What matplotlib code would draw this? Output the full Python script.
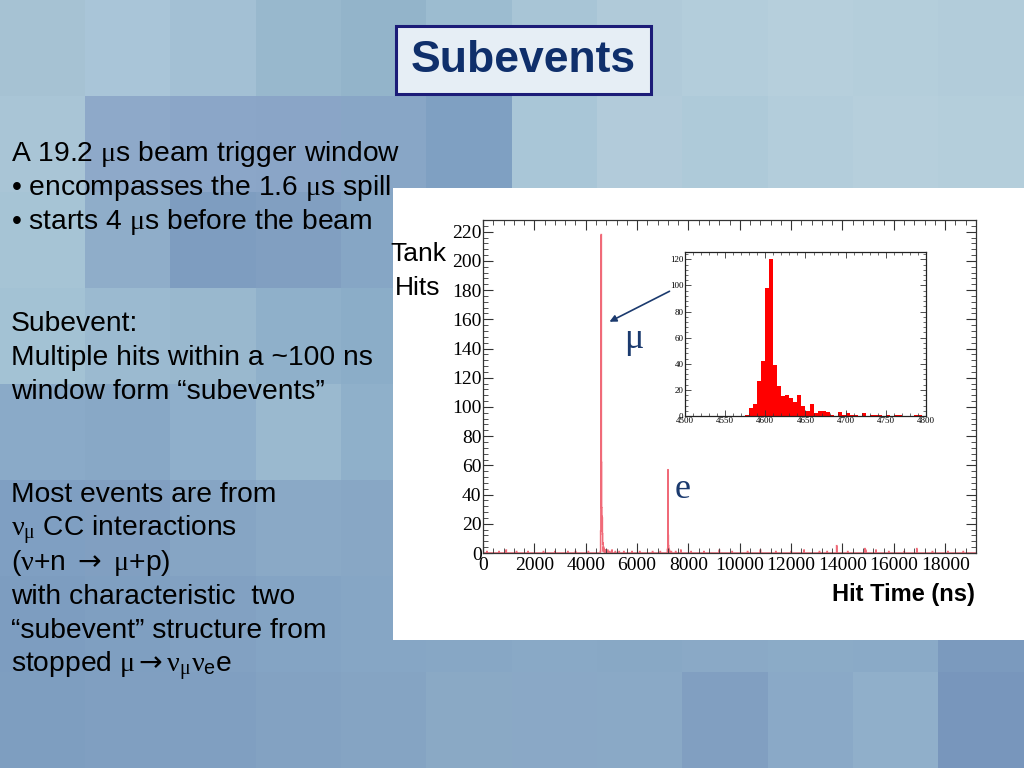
import numpy as np
import matplotlib
matplotlib.use("Agg")
import matplotlib.pyplot as plt
from matplotlib.patches import Rectangle
from matplotlib.ticker import MultipleLocator

plt.rcParams['font.family'] = ['Liberation Sans', 'DejaVu Sans']
plt.rcParams['mathtext.fontset'] = 'custom'
plt.rcParams['mathtext.rm'] = 'DejaVu Sans'
plt.rcParams['mathtext.sf'] = 'Liberation Sans'
plt.rcParams['mathtext.it'] = 'Liberation Serif'

# ---- data ----
# main histogram: 10 ns bins from 0 to 19200 ns, only non-empty bins listed
main_bin_width = 10
main_tmax = 19200
mu_bin_times = [4570, 4580, 4590, 4600, 4610, 4620, 4630, 4640, 4650, 4660,
                4670, 4680, 4690, 4700, 4710, 4720, 4730, 4740, 4760, 4790,
                4850, 4930, 5020, 5150, 5300, 5480]
mu_bin_counts = [1, 15, 69, 218, 62, 31, 25, 24, 13, 6,
                 7, 1, 4, 3, 1, 2, 2, 1, 2, 1,
                 2, 1, 2, 1, 1, 1]
e_bin_times = [7180, 7190, 7200, 7210, 7220, 7230, 7250, 7280, 7330]
e_bin_counts = [2, 3, 57, 12, 5, 3, 2, 1, 1]
noise_bin_times = [150, 620, 900, 1300, 1750, 2350, 2800, 3300, 3600, 4100,
                   5800, 6100, 6600, 6900, 7500, 7700, 8100, 8600, 9200, 9700,
                   10300, 10800, 11400, 12000, 12500, 13100, 13400, 13770, 14200, 14870,
                   14900, 15300, 15800, 16400, 16890, 17500, 18100, 18700]
noise_bin_counts = [1, 1, 2, 1, 1, 1, 1, 1, 1, 1,
                    1, 1, 1, 1, 1, 2, 1, 1, 2, 1,
                    1, 2, 1, 1, 2, 1, 1, 5, 1, 3,
                    2, 2, 1, 1, 3, 1, 1, 1]

# inset: 5 ns bins from 4500 to 4800 ns
inset_bin_width = 5
inset_tmin, inset_tmax = 4500, 4800
inset_counts = [0, 0, 0, 0, 0, 0, 0, 0, 0, 0,
                0, 0, 0, 0, 0, 1, 6, 9, 27, 42,
                98, 120, 39, 23, 15, 16, 14, 11, 16, 8,
                4, 9, 2, 4, 4, 3, 1, 0, 3, 1,
                2, 1, 1, 0, 2, 0, 1, 1, 1, 0,
                1, 0, 1, 1, 0, 0, 0, 1, 1, 0]

# slide text
title = "Subevents"
left_lines = [
    ("A 19.2 $\\mu$s beam trigger window", 161),
    ("\u2022 encompasses the 1.6 $\\mu$s spill", 195),
    ("\u2022 starts 4 $\\mu$s before the beam", 229),
    ("Subevent:", 331),
    ("Multiple hits within a ~100 ns", 365),
    ("window form \u201csubevents\u201d", 399),
    ("Most events are from", 502),
    ("$\\nu_\\mu$ CC interactions", 536),
    ("($\\nu$+n $\\mathrm{\\rightarrow}$ $\\mu$+p)", 570),
    ("with characteristic  two", 604),
    ("\u201csubevent\u201d structure from", 638),
    ("stopped $\\mu\\mathrm{\\rightarrow}\\nu_\\mu\\nu_\\mathsf{e}$e", 672),
]

# background tiles (decoration of the slide)
bg_tiles = [
    ["#a6c2d3", "#a9c5d8", "#a3c0d4", "#98b8cd", "#93b4ca", "#9cbcd0", "#a8c5d6", "#b0cad9", "#b3cddb", "#b6cfdc", "#b4cedb", "#b2ccda"],
    ["#a9c5d6", "#8ea9c9", "#8ba6c8", "#8aa5c7", "#88a6c6", "#7fa0c2", "#a9c6d7", "#b2cbda", "#aecad9", "#b3cddb", "#b6cfdc", "#b4cedb"],
    ["#a6c4d5", "#8fadc9", "#7e9dc0", "#819fc1", "#86a6c5", "#9bbbd0", "#a9c6d7", "#b2cbda", "#aecad9", "#b3cddb", "#b6cfdc", "#b4cedb"],
    ["#a3c2d4", "#9bbad0", "#99b8ce", "#8fb0ca", "#8badc8", "#9bbbd0", "#a9c6d7", "#b2cbda", "#aecad9", "#b3cddb", "#b6cfdc", "#b4cedb"],
    ["#8aaac8", "#88a8c6", "#8fafcb", "#9ab9cf", "#8fb0ca", "#9bbbd0", "#a9c6d7", "#b2cbda", "#aecad9", "#b3cddb", "#b6cfdc", "#b4cedb"],
    ["#7f9fc2", "#819fc1", "#86a5c4", "#8aa9c6", "#88a7c5", "#8fafca", "#9ab9cf", "#a0bdd2", "#a0bdd2", "#a4c0d4", "#a6c2d5", "#a0bdd2"],
    ["#7d9dc0", "#7f9fc1", "#82a1c2", "#84a4c4", "#86a6c5", "#87a7c5", "#89a9c6", "#88a8c5", "#8aa9c6", "#8babc7", "#8aaac7", "#7b9abe"],
    ["#7e9ec0", "#809fc1", "#809fc1", "#83a2c2", "#85a4c3", "#8aa9c5", "#8aa8c6", "#8aa9c6", "#819fc1", "#8aa9c7", "#90afca", "#7896bc"],
]

W, H = 1024, 768
fig = plt.figure(figsize=(W / 100, H / 100), dpi=100)

# background
bg_ax = fig.add_axes([0, 0, 1, 1])
bg_ax.set_zorder(-10)
rgb = np.array([[matplotlib.colors.to_rgb(c) for c in row] for row in bg_tiles])
bg_ax.imshow(rgb, aspect='auto', interpolation='nearest', extent=[0, 1, 0, 1])
bg_ax.set_axis_off()

def fx(px):
    return px / W

def fy(py):
    return 1 - py / H

# white panel behind the plot
fig.add_artist(Rectangle((fx(393), fy(640)), fx(1024 - 393), (640 - 188) / H,
                         transform=fig.transFigure, facecolor='white', edgecolor='none',
                         zorder=-5))

# title box
fig.add_artist(Rectangle((fx(396), fy(94)), fx(651 - 396), (94 - 26) / H,
                         transform=fig.transFigure, facecolor='#e6eef5',
                         edgecolor='#1c1c78', linewidth=2.2, zorder=-4))
fig.text(fx(523), fy(60), title, ha='center', va='center', fontsize=32,
         fontweight='bold', color='#0f2f6b')

# left text
for txt, base in left_lines:
    fig.text(fx(11), fy(base), txt, ha='left', va='baseline', fontsize=20.3, color='black')

fig.text(fx(418), fy(254), "Tank", ha='center', va='center', fontsize=19, color='black')
fig.text(fx(418), fy(288), "Hits", ha='center', va='center', fontsize=19, color='black')

# ---- main histogram ----
main_edges = np.arange(0, main_tmax + main_bin_width, main_bin_width)
main_counts = np.zeros(len(main_edges) - 1)
for times, counts in [(mu_bin_times, mu_bin_counts), (e_bin_times, e_bin_counts),
                      (noise_bin_times, noise_bin_counts)]:
    for t, c in zip(times, counts):
        main_counts[t // main_bin_width] += c

ax = fig.add_axes([fx(483), fy(553), fx(976 - 483), (553 - 220) / H])
ax.patch.set_alpha(0)
ax.stairs(main_counts, main_edges, color='#f06a78', linewidth=1.1)
ax.set_xlim(0, main_tmax)
ax.set_ylim(0, 228)
ax.xaxis.set_major_locator(MultipleLocator(2000))
ax.xaxis.set_minor_locator(MultipleLocator(400))
ax.yaxis.set_major_locator(MultipleLocator(20))
ax.yaxis.set_minor_locator(MultipleLocator(4))
ax.tick_params(which='both', direction='in', top=True, right=True, color='#333333')
ax.tick_params(which='major', length=7, width=0.8)
ax.tick_params(which='minor', length=3.5, width=0.6)
ax.tick_params(axis='x', pad=3)
ax.tick_params(axis='y', pad=1)
for lab in ax.get_xticklabels() + ax.get_yticklabels():
    lab.set_fontfamily('Liberation Serif')
    lab.set_fontsize(14)
for sp in ax.spines.values():
    sp.set_linewidth(0.9)
    sp.set_color('#333333')

fig.text(fx(975), fy(595), "Hit Time (ns)", ha='right', va='center', fontsize=17,
         fontweight='bold', color='black')

# ---- inset ----
inset_edges = np.arange(inset_tmin, inset_tmax + inset_bin_width, inset_bin_width)
axi = fig.add_axes([fx(685), fy(416), fx(926 - 685), (416 - 251.5) / H])
axi.stairs(inset_counts, inset_edges, fill=True, color='#ff0000', linewidth=0)
axi.set_xlim(inset_tmin, inset_tmax)
axi.set_ylim(0, 126)
axi.xaxis.set_major_locator(MultipleLocator(50))
axi.xaxis.set_minor_locator(MultipleLocator(10))
axi.yaxis.set_major_locator(MultipleLocator(20))
axi.yaxis.set_minor_locator(MultipleLocator(4))
axi.tick_params(which='both', direction='in', top=True, right=True, color='#333333')
axi.tick_params(which='major', length=4, width=0.6, pad=1)
axi.tick_params(which='minor', length=2, width=0.5)
for lab in axi.get_xticklabels() + axi.get_yticklabels():
    lab.set_fontfamily('Liberation Serif')
    lab.set_fontsize(6.5)
for sp in axi.spines.values():
    sp.set_linewidth(0.9)
    sp.set_color('#222222')

# arrow from inset to the muon peak, and particle labels
ax.annotate('', xy=(607, H - 323), xytext=(672, H - 290), xycoords='figure pixels',
            textcoords='figure pixels',
            arrowprops=dict(arrowstyle='-|>', color='#1b3a6e', lw=1.2, mutation_scale=10))
fig.text(fx(634), fy(340), "\u03bc", ha='center', va='center', fontsize=26,
         family='Liberation Serif', color='#1b3a6e')
fig.text(fx(683), fy(490), "e", ha='center', va='center', fontsize=26,
         family='Liberation Serif', color='#1b3a6e')

fig.savefig('out.png', dpi=100)
